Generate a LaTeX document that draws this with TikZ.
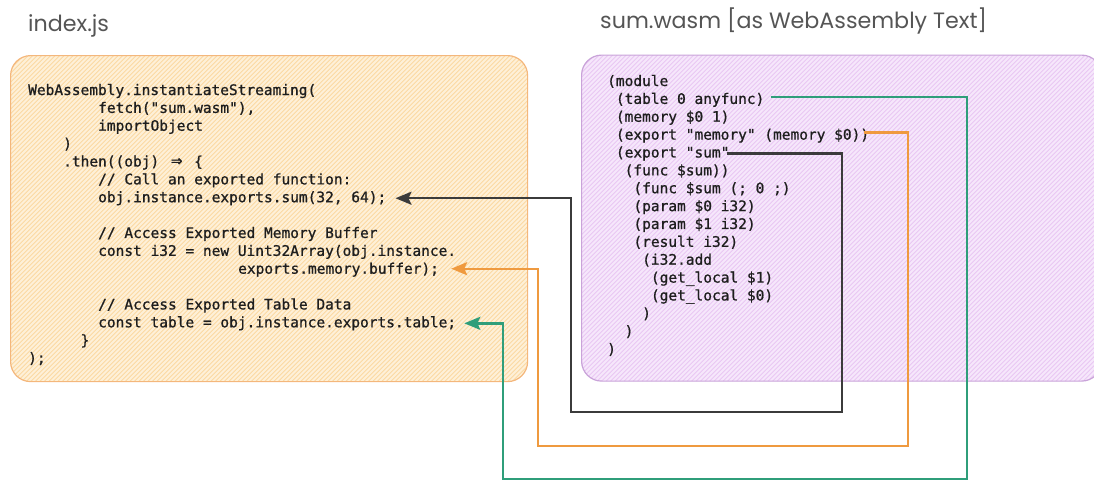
\documentclass[tikz,border=0pt]{standalone}
\usepackage{fontspec}
\setmonofont[FakeBold=0.9]{DejaVu Sans Mono}
\newfontfamily\headfont{Poppins}
\usetikzlibrary{arrows.meta}

\definecolor{ink}{HTML}{1E1E1E}
\definecolor{headink}{HTML}{555555}
\definecolor{jsfill}{HTML}{FEF0D8}
\definecolor{jshatch}{HTML}{FBD9A2}
\definecolor{jsedge}{HTML}{F4B77C}
\definecolor{watfill}{HTML}{F6E7FB}
\definecolor{wathatch}{HTML}{E9C8F3}
\definecolor{watedge}{HTML}{C9A3D9}
\definecolor{wireblack}{HTML}{3B3B3B}
\definecolor{wireorange}{HTML}{EF9A3F}
\definecolor{wiregreen}{HTML}{2F9E7A}

\tikzset{
  codeline/.style={anchor=base west, inner sep=0pt,
    font=\ttfamily\fontsize{14.5}{17}\selectfont, text=ink},
  heading/.style={anchor=base west, inner sep=0pt,
    font=\headfont\fontsize{22.2}{26}\selectfont, text=headink},
  hatched/.style={path picture={
    \foreach \k in {-340,-335.5,...,540}
      \draw[#1, line width=0.9pt]
        ([xshift=\k pt]path picture bounding box.south west) -- ++(400pt,400pt);}},
  panel/.style={rectangle, rounded corners=20pt, line width=1.2pt, inner sep=0pt,
    anchor=north west, minimum height=326pt},
  wire/.style={line width=2.4pt, draw=#1, line join=miter,
    -{Stealth[length=16pt, width=13pt, inset=3pt, fill=#1]}},
}

\begin{document}
\begin{tikzpicture}[x=1pt, y=-1pt]
\useasboundingbox (0,0) rectangle (1094,482);

% panels
\node[panel, fill=jsfill, draw=jsedge, hatched=jshatch, minimum width=517pt]
  (jsbox) at (10,55) {};
\node[panel, fill=watfill, draw=watedge, hatched=wathatch, minimum width=520pt]
  (watbox) at (581,54.5) {};

% headings
\node[heading] (jstitle) at (28,31.5) {index.js};
\node[heading] (wattitle) at (600,28.5) {sum.wasm [as WebAssembly Text]};

% index.js
\node[codeline] (js0)  at (28,95)     {WebAssembly.instantiateStreaming(};
\node[codeline] (js1)  at (98,112.87) {fetch("sum.wasm"),};
\node[codeline] (js2)  at (98,130.74) {importObject};
\node[codeline] (js3)  at (63,148.61) {)};
\node[codeline] (js4)  at (63,166.48) {.then((obj) \makebox[17.5pt]{\fontsize{19}{17}\selectfont ⇒} \{};
\node[codeline] (js5)  at (98,184.35) {// Call an exported function:};
\node[codeline] (js6)  at (98,202.22) {obj.instance.exports.sum(32, 64);};
\node[codeline] (js8)  at (98,237.96) {// Access Exported Memory Buffer};
\node[codeline] (js9)  at (98,255.83) {const i32 = new Uint32Array(obj.instance.};
\node[codeline] (js10) at (238,273.70) {exports.memory.buffer);};
\node[codeline] (js12) at (98,309.44) {// Access Exported Table Data};
\node[codeline] (js13) at (98,327.31) {const table = obj.instance.exports.table;};
\node[codeline] (js14) at (80.5,345.18) {\}};
\node[codeline] (js15) at (28,363.05) {);};

% sum.wasm as text
\node[codeline] (wat0)  at (607,86)        {(module};
\node[codeline] (wat1)  at (615.75,103.87) {(table 0 anyfunc)};
\node[codeline] (wat2)  at (615.75,121.74) {(memory \$0 1)};
\node[codeline] (wat3)  at (615.75,139.61) {(export "memory" (memory \$0))};
\node[codeline] (wat4)  at (615.75,157.48) {(export "sum"};
\node[codeline] (wat5)  at (624.5,175.35)  {(func \$sum))};
\node[codeline] (wat6)  at (633.25,193.22) {(func \$sum (; 0 ;)};
\node[codeline] (wat7)  at (633.25,211.09) {(param \$0 i32)};
\node[codeline] (wat8)  at (633.25,228.96) {(param \$1 i32)};
\node[codeline] (wat9)  at (633.25,246.83) {(result i32)};
\node[codeline] (wat10) at (642,264.70)    {(i32.add};
\node[codeline] (wat11) at (650.75,282.57) {(get\_local \$1)};
\node[codeline] (wat12) at (650.75,300.44) {(get\_local \$0)};
\node[codeline] (wat13) at (642,318.31)    {)};
\node[codeline] (wat14) at (624.5,336.18)  {)};
\node[codeline] (wat15) at (607,354.05)    {)};

% connector ends
\coordinate (sumOut) at ([shift={(-3pt,4pt)}]wat4.base east);
\coordinate (memOut) at ([shift={(-5pt,7pt)}]wat3.base east);
\coordinate (tabOut) at ([shift={(6pt,7pt)}]wat1.base east);
\coordinate (sumIn)  at ([shift={(9pt,4pt)}]js6.base east);
\coordinate (memIn)  at ([shift={(12pt,5pt)}]js10.base east);
\coordinate (tabIn)  at ([shift={(8pt,4pt)}]js13.base east);

% elbow corners
\coordinate (sumR) at (842,412);
\coordinate (sumL) at (571,412);
\coordinate (memR) at (908,446);
\coordinate (memL) at (538,446);
\coordinate (tabR) at (967,479);
\coordinate (tabL) at (503,479);

% exports wired back to their uses
\draw[wire=wireblack]  (sumOut) -| (sumR) -- (sumL) |- (sumIn);
\draw[wire=wireorange] (memOut) -| (memR) -- (memL) |- (memIn);
\draw[wire=wiregreen]  (tabOut) -| (tabR) -- (tabL) |- (tabIn);
\end{tikzpicture}
\end{document}
